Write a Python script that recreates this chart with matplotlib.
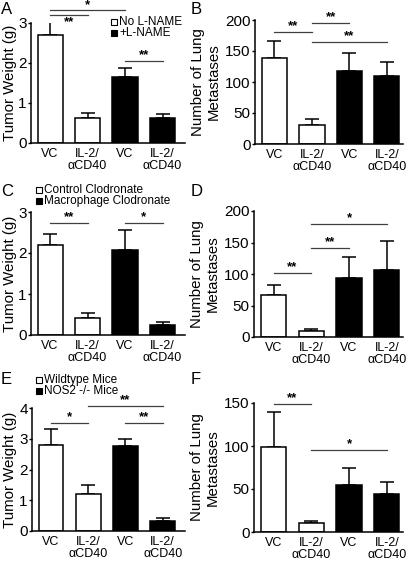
import matplotlib
matplotlib.use("Agg")
import matplotlib.pyplot as plt
from matplotlib.patches import Rectangle

plt.rcParams['font.family'] = ['Liberation Sans', 'DejaVu Sans']

categories = ["VC", "IL-2/\n\u03b1CD40", "VC", "IL-2/\n\u03b1CD40"]
bar_colors = ["white", "white", "black", "black"]
legend_colors = ["white", "black"]

# Panel A: tumor weight, L-NAME
a_vals = [2.70, 0.62, 1.64, 0.62]
a_err = [0.35, 0.13, 0.23, 0.11]
a_legend = ["No L-NAME", "+L-NAME"]
a_sig = [(0, 2, 3.32, "*", 5), (0, 1, 3.20, "**", -7), (2, 3, 2.04, "**", 6)]

# Panel B: lung metastases, L-NAME
b_vals = [139, 30, 118, 110]
b_err = [27, 10, 29, 22]
b_sig = [(0, 1, 180, "**", 6), (1, 2, 195, "**", 6), (1, 3, 165, "**", 6)]

# Panel C: tumor weight, clodronate
c_vals = [2.20, 0.42, 2.07, 0.24]
c_err = [0.27, 0.12, 0.48, 0.08]
c_legend = ["Control Clodronate", "Macrophage Clodronate"]
c_sig = [(0, 1, 2.73, "**", 6), (2, 3, 2.73, "*", 6)]

# Panel D: lung metastases, clodronate
d_vals = [67, 10, 93, 107]
d_err = [15, 3, 34, 45]
d_sig = [(0, 1, 102, "**", 6), (1, 2, 141, "**", 6), (1, 3, 179, "*", 6)]

# Panel E: tumor weight, NOS2
e_vals = [2.80, 1.19, 2.77, 0.31]
e_err = [0.52, 0.32, 0.23, 0.11]
e_legend = ["Wildtype Mice", "NOS2 -/- Mice"]
e_sig = [(0, 1, 3.50, "*", 6), (1, 3, 4.06, "**", 6), (2, 3, 3.50, "**", 6)]

# Panel F: lung metastases, NOS2
f_vals = [99, 11, 55, 44]
f_err = [40, 2, 19, 14]
f_sig = [(0, 1, 149, "**", 6), (1, 3, 95, "*", 6)]

W, H = 407, 561
fig = plt.figure(figsize=(W / 100, H / 100), dpi=100)
PT = 72 / 100  # points per pixel


def rect(l, r, top, bot):
    return [l / W, 1 - bot / H, (r - l) / W, (bot - top) / H]


def add_legend(labels, sq_x, text_x, rows_y):
    for lab, col, y in zip(labels, legend_colors, rows_y):
        fig.patches.append(Rectangle(((sq_x) / W, 1 - (y + 3) / H), 6 / W, 6 / H,
                                     transform=fig.transFigure, facecolor=col,
                                     edgecolor="black", linewidth=0.8))
        fig.text(text_x / W, 1 - y / H, lab, fontsize=8.5, ha="left", va="center")


def panel(r, vals, err, ylim, yticks, xlim, ylabel, label_x, letter, letter_xy, sig):
    ax = fig.add_axes(r)
    x = list(range(len(vals)))
    ax.bar(x, vals, width=0.67, color=bar_colors, edgecolor="black", linewidth=1.1, zorder=2)
    ax.errorbar(x, vals, yerr=[[0] * len(err), err], fmt="none", ecolor="black",
                elinewidth=1.1, capsize=5, capthick=1.1, zorder=1)
    ax.set_xlim(*xlim)
    ax.set_ylim(*ylim)
    ax.set_yticks(yticks)
    ax.set_xticks(x)
    ax.set_xticklabels(categories, fontsize=9, linespacing=1.0)
    ax.tick_params(axis="x", length=0, pad=3.5)
    ax.tick_params(axis="y", labelsize=11, length=2, width=1, pad=1)
    for s in ["top", "right"]:
        ax.spines[s].set_visible(False)
    for s in ["left", "bottom"]:
        ax.spines[s].set_linewidth(1.1)
    ax.set_ylabel(ylabel, fontsize=10.8, linespacing=1.2)
    ax_w = r[2] * W
    ax.yaxis.set_label_coords((label_x - r[0] * W) / ax_w, 0.5)
    fig.text(letter_xy[0] / W, 1 - letter_xy[1] / H, letter, fontsize=12, ha="left", va="top")
    for (x1, x2, y, lab, off) in sig:
        ax.plot([x1, x2], [y, y], color="#404040", linewidth=0.9, clip_on=False)
        ax.annotate(lab, xy=((x1 + x2) / 2, y), xytext=(0, off * PT), textcoords="offset points",
                    ha="center", va="center", fontsize=9.5, fontweight="bold",
                    annotation_clip=False)
    return ax


xl_left = (-0.51, 3.6)
xl_right = (-0.52, 3.43)

panel(rect(31, 185, 23, 143), a_vals, a_err, (0, 3), [0, 1, 2, 3], xl_left,
      "Tumor Weight (g)", 17, "A", (1, 2), a_sig)
add_legend(a_legend, 111, 119, [22, 33])
panel(rect(255, 403, 20, 144), b_vals, b_err, (0, 200), [0, 50, 100, 150, 200], xl_right,
      "Number of Lung\nMetastases", 221, "B", (191, 2), b_sig)
panel(rect(31, 185, 212, 335), c_vals, c_err, (0, 3), [0, 1, 2, 3], xl_left,
      "Tumor Weight (g)", 17, "C", (1, 184), c_sig)
add_legend(c_legend, 36, 44, [190, 201])
panel(rect(254, 403, 211, 337), d_vals, d_err, (0, 200), [0, 50, 100, 150, 200], xl_right,
      "Number of Lung\nMetastases", 220, "D", (191, 184), d_sig)
panel(rect(32, 185, 408, 531), e_vals, e_err, (0, 4), [0, 1, 2, 3, 4], xl_left,
      "Tumor Weight (g)", 17, "E", (1, 372), e_sig)
add_legend(e_legend, 36, 44, [380, 391])
panel(rect(254, 403, 403, 532), f_vals, f_err, (0, 150), [0, 50, 100, 150], xl_right,
      "Number of Lung\nMetastases", 220, "F", (191, 372), f_sig)

fig.savefig("out.png", dpi=100)
